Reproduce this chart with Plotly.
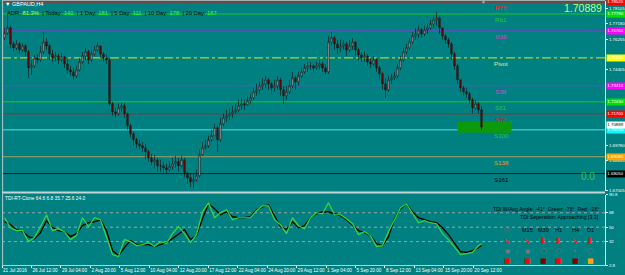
import plotly.graph_objects as go

# ---------------- data ----------------
symbol = "GBPAUD,H4"
adr_labels = ["ADR:", "| Today:", "| 1 Day:", "| 5 Day:", "| 10 Day:", "| 20 Day:"]
adr_values = ["81.3%", "140", "181", "111", "178", "167"]

first_open = 1.7633
close = [
    1.7663, 1.7694, 1.7596, 1.7572, 1.7596, 1.7560, 1.7584, 1.7548, 1.7450, 1.7462,
    1.7511, 1.7499, 1.7548, 1.7608, 1.7584, 1.7535, 1.7511, 1.7523, 1.7499, 1.7517,
    1.7474, 1.7438, 1.7426, 1.7401, 1.7438, 1.7487, 1.7523, 1.7548, 1.7499, 1.7535,
    1.7560, 1.7584, 1.7535, 1.7511, 1.7499, 1.7231, 1.7182, 1.7170, 1.7206, 1.7219,
    1.7170, 1.7097, 1.7048, 1.7012, 1.6987, 1.6975, 1.6963, 1.6939, 1.6902, 1.6878,
    1.6890, 1.6853, 1.6853, 1.6841, 1.6829, 1.6847, 1.6865, 1.6878, 1.6853, 1.6890,
    1.6805, 1.6780, 1.6756, 1.6768, 1.6792, 1.6920, 1.6963, 1.6975, 1.7012, 1.7036,
    1.7085, 1.7012, 1.7109, 1.7146, 1.7158, 1.7170, 1.7182, 1.7194, 1.7219, 1.7231,
    1.7225, 1.7249, 1.7267, 1.7304, 1.7316, 1.7340, 1.7353, 1.7377, 1.7353, 1.7328,
    1.7340, 1.7377, 1.7316, 1.7280, 1.7304, 1.7340, 1.7389, 1.7365, 1.7401, 1.7426,
    1.7450, 1.7462, 1.7462, 1.7450, 1.7462, 1.7474, 1.7450, 1.7426, 1.7608, 1.7633,
    1.7596, 1.7572, 1.7584, 1.7596, 1.7560, 1.7584, 1.7608, 1.7560, 1.7529, 1.7511,
    1.7523, 1.7487, 1.7474, 1.7499, 1.7450, 1.7414, 1.7353, 1.7316, 1.7377, 1.7389,
    1.7401, 1.7450, 1.7499, 1.7548, 1.7572, 1.7608, 1.7645, 1.7657, 1.7682, 1.7657,
    1.7682, 1.7694, 1.7718, 1.7742, 1.7755, 1.7694, 1.7645, 1.7621, 1.7596, 1.7535,
    1.7462, 1.7377, 1.7328, 1.7304, 1.7292, 1.7255, 1.7206, 1.7231, 1.7194, 1.70889,
]
high = [
    1.7694, 1.7779, 1.7706, 1.7608, 1.7621, 1.7608, 1.7602, 1.7596, 1.7560, 1.7499,
    1.7529, 1.7535, 1.7584, 1.7669, 1.7633, 1.7596, 1.7560, 1.7548, 1.7535, 1.7541,
    1.7523, 1.7499, 1.7462, 1.7450, 1.7462, 1.7511, 1.7548, 1.7572, 1.7560, 1.7560,
    1.7584, 1.7608, 1.7584, 1.7548, 1.7529, 1.7511, 1.7243, 1.7206, 1.7231, 1.7237,
    1.7231, 1.7182, 1.7109, 1.7060, 1.7024, 1.7012, 1.6999, 1.6987, 1.6951, 1.6926,
    1.6920, 1.6902, 1.6890, 1.6878, 1.6865, 1.6878, 1.6902, 1.6914, 1.6902, 1.6914,
    1.6902, 1.6817, 1.6805, 1.6805, 1.6829, 1.6951, 1.6999, 1.7012, 1.7036, 1.7072,
    1.7109, 1.7097, 1.7146, 1.7170, 1.7194, 1.7206, 1.7219, 1.7231, 1.7255, 1.7267,
    1.7255, 1.7280, 1.7292, 1.7328, 1.7353, 1.7365, 1.7389, 1.7401, 1.7389, 1.7365,
    1.7377, 1.7401, 1.7389, 1.7340, 1.7340, 1.7377, 1.7426, 1.7401, 1.7426, 1.7450,
    1.7474, 1.7487, 1.7487, 1.7474, 1.7487, 1.7499, 1.7487, 1.7474, 1.7645, 1.7669,
    1.7645, 1.7621, 1.7621, 1.7621, 1.7608, 1.7621, 1.7633, 1.7608, 1.7572, 1.7548,
    1.7548, 1.7535, 1.7511, 1.7523, 1.7511, 1.7462, 1.7426, 1.7389, 1.7401, 1.7414,
    1.7426, 1.7474, 1.7523, 1.7572, 1.7596, 1.7633, 1.7669, 1.7694, 1.7706, 1.7694,
    1.7706, 1.7718, 1.7742, 1.7767, 1.7791, 1.7767, 1.7694, 1.7657, 1.7633, 1.7608,
    1.7548, 1.7474, 1.7377, 1.7340, 1.7328, 1.7304, 1.7267, 1.7255, 1.7243, 1.7219,
]
low = [
    1.7621, 1.7651, 1.7572, 1.7548, 1.7560, 1.7535, 1.7548, 1.7523, 1.7389, 1.7407,
    1.7450, 1.7474, 1.7487, 1.7535, 1.7560, 1.7499, 1.7487, 1.7487, 1.7474, 1.7487,
    1.7450, 1.7414, 1.7401, 1.7377, 1.7389, 1.7426, 1.7474, 1.7499, 1.7474, 1.7487,
    1.7523, 1.7548, 1.7511, 1.7487, 1.7474, 1.7219, 1.7158, 1.7146, 1.7158, 1.7182,
    1.7146, 1.7072, 1.7024, 1.6975, 1.6963, 1.6951, 1.6939, 1.6890, 1.6878, 1.6853,
    1.6841, 1.6817, 1.6817, 1.6805, 1.6805, 1.6817, 1.6829, 1.6841, 1.6817, 1.6841,
    1.6780, 1.6744, 1.6725, 1.6719, 1.6756, 1.6780, 1.6914, 1.6951, 1.6963, 1.6999,
    1.7036, 1.6939, 1.6999, 1.7097, 1.7121, 1.7133, 1.7146, 1.7170, 1.7182, 1.7194,
    1.7194, 1.7219, 1.7231, 1.7255, 1.7280, 1.7292, 1.7316, 1.7328, 1.7316, 1.7292,
    1.7304, 1.7316, 1.7280, 1.7231, 1.7255, 1.7292, 1.7328, 1.7316, 1.7340, 1.7389,
    1.7414, 1.7426, 1.7438, 1.7426, 1.7438, 1.7438, 1.7426, 1.7414, 1.7414, 1.7584,
    1.7560, 1.7535, 1.7548, 1.7560, 1.7523, 1.7548, 1.7560, 1.7523, 1.7499, 1.7487,
    1.7487, 1.7462, 1.7450, 1.7462, 1.7426, 1.7377, 1.7316, 1.7267, 1.7304, 1.7353,
    1.7377, 1.7389, 1.7438, 1.7487, 1.7535, 1.7560, 1.7596, 1.7621, 1.7633, 1.7633,
    1.7645, 1.7657, 1.7682, 1.7694, 1.7706, 1.7657, 1.7621, 1.7596, 1.7572, 1.7499,
    1.7438, 1.7353, 1.7304, 1.7280, 1.7267, 1.7231, 1.7170, 1.7194, 1.7170, 1.7072,
]

level_names = ["R78", "R61", "R38", "Pivot", "S38", "S61", "S78", "S100", "S138", "S161"]
level_prices = [1.7852, 1.7779, 1.7676, 1.7511, 1.7341, 1.7243, 1.7170, 1.7072, 1.6908, 1.6805]
last_price = 1.70889
zone_bars = [151, 169]
zone_prices = [1.7054, 1.7121]

# price-scale labels left uncovered by the level boxes
price_ticks = ["1.78105", "1.77180", "1.76255", "1.74405", "1.69780", "1.68855", "1.67005"]
time_labels = ["21 Jul 2016", "26 Jul 12:00", "29 Jul 04:00", "2 Aug 20:00", "5 Aug 12:00",
               "10 Aug 04:00", "12 Aug 20:00", "17 Aug 12:00", "22 Aug 04:00", "24 Aug 20:00",
               "29 Aug 12:00", "1 Sep 04:00", "5 Sep 20:00", "8 Sep 12:00", "13 Sep 04:00",
               "15 Sep 20:00", "20 Sep 12:00"]

tdi_name = "TDI-RT-Clone"
tdi_params = ["64.6", "6.8", "35.7", "25.6", "24.0"]
tdi_green = [
    61.8, 49.4, 45.7, 45.7, 32.0, 37.0, 50.6, 65.5, 45.7, 48.1,
    44.4, 34.5, 39.5, 61.8, 50.6, 61.8, 59.3, 37.0, 15.9, 13.4,
    34.5, 32.0, 27.0, 28.3, 30.8, 25.8, 32.0, 29.5, 41.9, 50.6,
    41.9, 30.8, 40.7, 69.2, 80.4, 61.8, 68.0, 71.7, 59.3, 61.8,
    61.8, 61.8, 70.5, 76.7, 76.7, 59.3, 53.1, 41.9, 61.8, 51.9,
    48.1, 61.8, 68.0, 66.8, 80.4, 65.5, 65.5, 60.6, 54.3, 40.7,
    44.4, 39.5, 25.8, 27.0, 44.4, 59.3, 74.2, 79.2, 68.0, 55.6,
    58.1, 55.6, 54.3, 41.9, 34.5, 25.8, 15.9, 17.1, 18.4, 27.0,
    29.5,
]
tdi_black = [
    56.8, 53.1, 46.9, 44.4, 38.2, 35.7, 43.2, 58.1, 49.4, 45.7,
    44.4, 38.2, 41.9, 51.9, 55.6, 56.8, 59.3, 45.7, 20.8, 14.6,
    24.6, 33.3, 28.3, 28.3, 28.3, 25.8, 28.3, 30.8, 35.7, 41.9,
    46.9, 34.5, 39.5, 60.6, 79.2, 73.0, 65.5, 69.2, 63.0, 61.8,
    61.8, 63.0, 71.7, 75.4, 77.9, 64.3, 50.6, 46.9, 56.8, 49.4,
    51.9, 61.8, 66.8, 69.2, 69.2, 66.8, 64.3, 59.3, 51.9, 45.7,
    43.2, 39.5, 29.5, 27.0, 38.2, 60.6, 73.0, 79.2, 69.2, 61.8,
    59.3, 56.8, 55.6, 49.4, 40.7, 29.5, 19.6, 18.4, 20.8, 24.6,
    27.0,
]
tdi_levels = [2.8, 32, 50, 68, 90.8]
tdi_grid = [32, 50, 68]
angle_text = "TDI W/Avg Angle: -41°  Green: -75°  Red: -28°"
sep_text = "TDI Seperation: Approaching [3.3]"
tf_names = ["M5", "M15", "M30", "H1", "H4", "D1"]
tf_arrows = ["➘", "➘", "⬇", "⬇", "➘", "⬇"]
tf_dots = ["●", "●", "○", "○", "•", "○"]
tf_boxes = ["#ff0000", "#ff0000", "#800000", "#ff0000", "#800000", "#ffa500"]
signal_value = "0.0"

# ---------------- layout helpers ----------------
W, H = 625, 275
ML, MR, MT, MB = 2, 20, 0, 10
PW, PH = W - ML - MR, H - MT - MB


def fx(px):
    return (px - ML) / PW


def fy(py):
    return 1 - (py - MT) / PH


n = len(close)
bars = list(range(n))
opens = [first_open] + close[:-1]
high = [max(h, o, c) for h, o, c in zip(high, opens, close)]
low = [min(l, o, c) for l, o, c in zip(low, opens, close)]
ind_x = list(range(0, n, 2)) + [n - 1]

BG = "#008080"
FONT = "Liberation Sans, Arial, sans-serif"
xr = [-0.833, 200.167]
AX_FONT = 4.4

level_line = {
    "R78": ("#e01010", "solid"), "R61": ("#10d010", "solid"), "R38": ("#7048c8", "solid"),
    "Pivot": ("#e8e800", "dashdot"), "S38": ("#7048c8", "solid"), "S61": ("#10d010", "solid"),
    "S78": ("#d01818", "solid"), "S100": ("#40e8e8", "solid"), "S138": ("#a8a060", "solid"),
    "S161": ("#0a2020", "solid"),
}
level_text_col = {
    "R78": "#ff2020", "R61": "#20d020", "R38": "#e030e0", "Pivot": "#e8e890", "S38": "#e030e0",
    "S61": "#20d020", "S78": "#d02020", "S100": "#20d020", "S138": "#e0a020", "S161": "#000000",
}
level_box = {
    "R78": "#ff0000", "R61": "#00e000", "R38": "#ff00ff", "Pivot": "#ffff00", "S38": "#ff00ff",
    "S61": "#00e000", "S78": "#ff0000", "S100": "#00ffff", "S138": "#ffa500", "S161": "#000000",
}

fig = go.Figure()
fig.add_trace(go.Candlestick(
    x=bars, open=opens, high=high, low=low, close=close, xaxis="x", yaxis="y",
    increasing=dict(line=dict(color="#101010", width=0.6), fillcolor="#b0b0b0"),
    decreasing=dict(line=dict(color="#101010", width=0.6), fillcolor="#8a0000"),
    whiskerwidth=0, showlegend=False, hoverinfo="skip",
))
fig.add_trace(go.Scatter(x=ind_x, y=tdi_black, xaxis="x2", yaxis="y2", mode="lines",
                         line=dict(color="#000000", width=1.4), showlegend=False))
fig.add_trace(go.Scatter(x=ind_x, y=tdi_green, xaxis="x2", yaxis="y2", mode="lines",
                         line=dict(color="#3ad83a", width=1.2), showlegend=False))

shapes = []
for name, p in zip(level_names, level_prices):
    col, dash = level_line[name]
    shapes.append(dict(type="line", xref="paper", x0=0, x1=1, yref="y", y0=p, y1=p,
                       line=dict(color=col, width=1, dash=dash), layer="below"))
shapes.append(dict(type="rect", xref="x", x0=zone_bars[0], x1=zone_bars[1], yref="y",
                   y0=zone_prices[0], y1=zone_prices[1], fillcolor="#0c9a0c",
                   line=dict(width=0), layer="below"))
for g in tdi_grid:
    shapes.append(dict(type="line", xref="paper", x0=0, x1=1, yref="y2", y0=g, y1=g,
                       line=dict(color="#90a8a8", width=1, dash="dot"), layer="below"))
# panel frame / separators
shapes.append(dict(type="line", xref="paper", yref="paper", x0=0, x1=1, y0=fy(192.5), y1=fy(192.5),
                   line=dict(color="#c8d4d4", width=2)))
shapes.append(dict(type="line", xref="paper", yref="paper", x0=0, x1=1, y0=fy(0.5), y1=fy(0.5),
                   line=dict(color="#a0b0b0", width=1)))
shapes.append(dict(type="line", xref="paper", yref="paper", x0=0.001, x1=0.001, y0=0, y1=1,
                   line=dict(color="#b8c8c8", width=1)))

ann = []
# top-left texts
ann.append(dict(x=fx(3), y=fy(4), xref="paper", yref="paper", xanchor="left", yanchor="middle",
                text="▼ " + symbol, showarrow=False, font=dict(size=5.5, color="#ffffff")))
parts = []
for lab, val in zip(adr_labels, adr_values):
    vcol = "#b4ff30" if lab == "ADR:" else "#30ff30"
    parts.append(f"<span style='color:#000000'>{lab}</span> <span style='color:{vcol}'>{val}</span>")
ann.append(dict(x=fx(5), y=fy(13), xref="paper", yref="paper", xanchor="left", yanchor="middle",
                text="  ".join(parts), showarrow=False, font=dict(size=5.8)))
ann.append(dict(x=fx(604), y=fy(8.5), xref="paper", yref="paper", xanchor="right", yanchor="middle",
                text=f"{last_price:.5f}", showarrow=False, font=dict(size=10.5, color="#c0ff80")))
ann.append(dict(x=fx(597), y=fy(176.5), xref="paper", yref="paper", xanchor="right", yanchor="middle",
                text=signal_value, showarrow=False, font=dict(size=10, color="#40c040")))
ann.append(dict(x=fx(483), y=fy(2.5), xref="paper", yref="paper", xanchor="center", yanchor="middle",
                text="▼", showarrow=False, font=dict(size=5, color="#b0b0b0")))

# level labels and price boxes
for name, p in zip(level_names, level_prices):
    ann.append(dict(x=165.5, y=p, xref="x", yref="y", xanchor="center", yanchor="top", yshift=-0.5,
                    text=name, showarrow=False, font=dict(size=6.2, color=level_text_col[name])))
    ann.append(dict(x=1, y=p, xref="paper", yref="y", xanchor="left", yanchor="middle", xshift=1,
                    text=f"{p:.5f}", showarrow=False, bgcolor=level_box[name], borderpad=0.3,
                    width=18, align="left", font=dict(size=AX_FONT, color="#ffffff")))
ann.append(dict(x=1, y=last_price, xref="paper", yref="y", xanchor="left", yanchor="bottom", xshift=1,
                yshift=-2, text=f"{last_price:.5f}", showarrow=False, bgcolor="#ffffff", borderpad=0.3,
                width=18, align="left", font=dict(size=AX_FONT, color="#000000")))

# indicator texts
ann.append(dict(x=fx(3), y=fy(198.5), xref="paper", yref="paper", xanchor="left", yanchor="middle",
                text=tdi_name + " " + " ".join(tdi_params), showarrow=False,
                font=dict(size=4.8, color="#ffffff")))
ann.append(dict(x=fx(601), y=fy(209), xref="paper", yref="paper", xanchor="right", yanchor="middle",
                text=angle_text, showarrow=False, font=dict(size=5.2, color="#000000")))
ann.append(dict(x=fx(601), y=fy(216.5), xref="paper", yref="paper", xanchor="right", yanchor="middle",
                text=sep_text, showarrow=False, font=dict(size=5.2, color="#000000")))
col_px = [507, 527, 543, 558, 575, 590]
for k, tf in enumerate(tf_names):
    cx = fx(col_px[k])
    ann.append(dict(x=cx, y=fy(230), xref="paper", yref="paper", xanchor="center", yanchor="middle",
                    text=tf, showarrow=False,
                    font=dict(size=5.5, color="#5a6a6a" if k == 0 else "#000000")))
    ann.append(dict(x=cx, y=fy(240.5), xref="paper", yref="paper", xanchor="center", yanchor="middle",
                    text="<b>" + tf_arrows[k] + "</b>", showarrow=False,
                    font=dict(size=9, color="#ff1010", family="DejaVu Sans")))
    ann.append(dict(x=cx, y=fy(250.5), xref="paper", yref="paper", xanchor="center", yanchor="middle",
                    text=tf_dots[k], showarrow=False,
                    font=dict(size=6 if tf_dots[k] != "○" else 8, color="#707878", family="DejaVu Sans")))
    ann.append(dict(x=cx, y=fy(260.5), xref="paper", yref="paper", xanchor="center", yanchor="middle",
                    text="■", showarrow=False,
                    font=dict(size=7, color=tf_boxes[k], family="DejaVu Sans")))

tick_pos = [xr[0] + k * 9.82 for k in range(len(time_labels))]

fig.update_layout(
    width=W, height=H, margin=dict(l=ML, r=MR, t=MT, b=MB, autoexpand=False),
    paper_bgcolor=BG, plot_bgcolor=BG, showlegend=False,
    font=dict(family=FONT, size=5, color="#ffffff"),
    xaxis=dict(domain=[0, 1], anchor="y", range=xr, showticklabels=False, showgrid=False,
               zeroline=False, ticks="", rangeslider=dict(visible=False), automargin=False),
    xaxis2=dict(domain=[0, 1], anchor="y2", range=xr, tickvals=tick_pos, ticktext=time_labels,
                ticks="outside", ticklen=2, tickcolor="#ffffff", ticklabelposition="outside right",
                tickangle=0, tickfont=dict(size=AX_FONT + 0.2, color="#ffffff"), showgrid=False,
                zeroline=False, showline=True, linecolor="#c0c8c8", linewidth=1, automargin=False),
    yaxis=dict(domain=[fy(191), fy(0.5)], anchor="x", side="right", range=[1.6699, 1.7861],
               tickvals=[float(t) for t in price_ticks], ticktext=price_ticks, ticks="outside",
               ticklen=2, tickcolor="#ffffff", tickfont=dict(size=AX_FONT, color="#ffffff"),
               showgrid=False, zeroline=False, showline=True, linecolor="#e0e8e8", linewidth=1,
               automargin=False),
    yaxis2=dict(domain=[0, fy(194.5)], anchor="x2", side="right", range=[2.8, 90.8],
                tickvals=tdi_levels, ticktext=[str(v) for v in tdi_levels], ticks="outside",
                ticklen=2, tickcolor="#ffffff", tickfont=dict(size=AX_FONT, color="#ffffff"),
                showgrid=False, zeroline=False, showline=True, linecolor="#e0e8e8", linewidth=1,
                automargin=False),
    shapes=shapes, annotations=ann,
)

fig.write_html("out.html")
